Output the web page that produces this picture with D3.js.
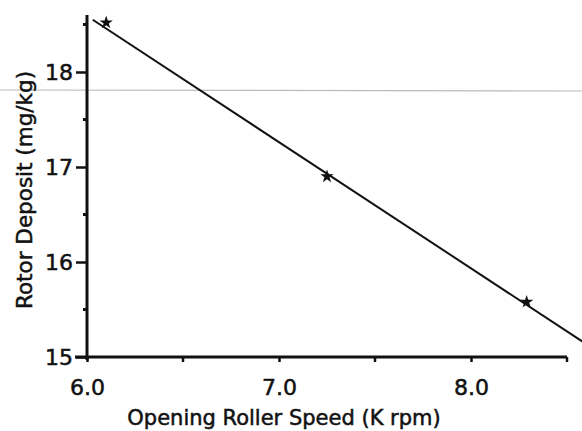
<!DOCTYPE html>
<html>
<head>
<meta charset="utf-8">
<script src="https://cdn.jsdelivr.net/npm/d3@7"></script>
<style>
  body { margin: 0; background: #fff; }
  svg { display: block; }
  text { font-family: "DejaVu Sans", Arial, sans-serif; fill: #111; stroke: #111; stroke-width: 0.5px; }
</style>
</head>
<body>
<div id="chart"></div>
<script>
// Observed points (opening roller speed, K rpm -> rotor deposit, mg/kg)
const speeds = [6.1, 7.25, 8.29];
const deposits = [18.52, 16.9, 15.58];

// Fitted line end points
const fitX = [6.03, 8.65];
const fitY = [18.55, 15.07];

const xMajor = [6.0, 7.0, 8.0];
const xMinor = [6.5, 7.5, 8.5];
const yMajor = [15, 16, 17, 18];
const yMinor = [15.5, 16.5, 17.5, 18.5];

const WIDTH = 582;
const HEIGHT = 431;
const FONT = '"DejaVu Sans", Arial, sans-serif';

const svg = d3.select('#chart')
  .append('svg')
  .attr('width', WIDTH)
  .attr('height', HEIGHT);

const x = d3.scaleLinear().domain([6, 8.5]).range([87, 567]);
const y = d3.scaleLinear().domain([15, 18.6]).range([357, 15]);

// faint scan streak across the page
svg.append('line')
  .attr('x1', 0).attr('x2', WIDTH)
  .attr('y1', 90).attr('y2', 91)
  .attr('stroke', '#bbb')
  .attr('stroke-width', 1.2);

// --- Axes ---
const xAxis = svg.append('g')
  .attr('transform', `translate(0, ${y(15)})`)
  .call(d3.axisBottom(x).tickValues(xMajor).tickSize(5).tickPadding(17)
    .tickFormat(d3.format('.1f')));

xAxis.select('.domain').remove();
xAxis.append('line')
  .attr('x1', x(6) - 12).attr('x2', x(8.5))
  .attr('stroke', '#111').attr('stroke-width', 3);

xAxis.selectAll('.minor')
  .data(xMinor)
  .join('line')
  .attr('class', 'minor')
  .attr('x1', d => x(d)).attr('x2', d => x(d))
  .attr('y1', 0).attr('y2', 5)
  .attr('stroke', '#111').attr('stroke-width', 2.5);

const yAxis = svg.append('g')
  .attr('transform', `translate(${x(6)}, 0)`)
  .call(d3.axisLeft(y).tickValues(yMajor).tickSize(11).tickPadding(3)
    .tickFormat(d3.format('d')));

yAxis.select('.domain').remove();
yAxis.append('line')
  .attr('y1', y(15) + 3).attr('y2', y(18.6))
  .attr('stroke', '#111').attr('stroke-width', 3);

yAxis.selectAll('.minor')
  .data(yMinor)
  .join('line')
  .attr('class', 'minor')
  .attr('x1', -4).attr('x2', 0)
  .attr('y1', d => y(d)).attr('y2', d => y(d))
  .attr('stroke', '#111').attr('stroke-width', 3);

svg.selectAll('.tick line')
  .attr('stroke', '#111')
  .attr('stroke-width', 2.5);

svg.selectAll('.tick text')
  .attr('font-size', '22px')
  .attr('font-family', FONT)
  .attr('fill', '#111');

// --- Fitted line ---
const line = d3.line()
  .x((d, i) => x(fitX[i]))
  .y(d => y(d));

svg.append('path')
  .datum(fitY)
  .attr('d', line)
  .attr('fill', 'none')
  .attr('stroke', '#111')
  .attr('stroke-width', 2);

// --- Data points ---
svg.selectAll('.pt')
  .data(speeds)
  .join('path')
  .attr('class', 'pt')
  .attr('transform', (d, i) => `translate(${x(d)}, ${y(deposits[i])})`)
  .attr('d', d3.symbol(d3.symbolStar, 55))
  .attr('fill', '#111');

// --- Axis titles ---
svg.append('text')
  .attr('x', 284)
  .attr('y', 425)
  .attr('text-anchor', 'middle')
  .attr('font-size', '21px')
  .text('Opening Roller Speed (K rpm)');

svg.append('text')
  .attr('transform', 'translate(32, 190) rotate(-90)')
  .attr('text-anchor', 'middle')
  .attr('font-size', '21.5px')
  .text('Rotor Deposit (mg/kg)');
</script>
</body>
</html>
